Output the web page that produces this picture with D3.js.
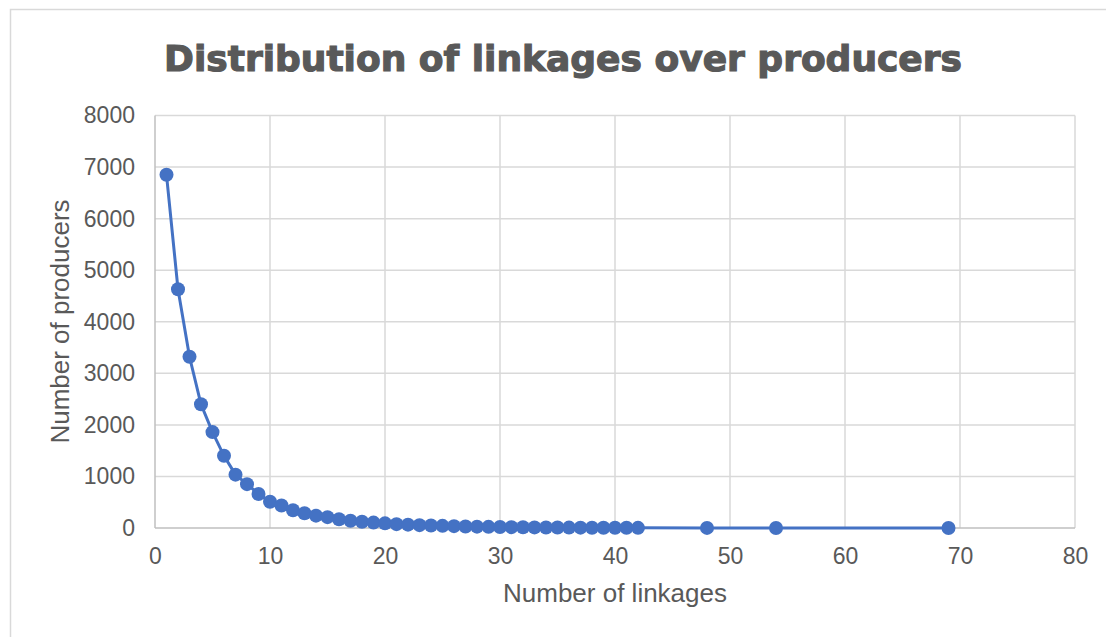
<!DOCTYPE html>
<html>
<head>
<meta charset="utf-8">
<title>Distribution of linkages over producers</title>
<style>
body { margin: 0; background: #fff; }
text { fill: #595959; font-family: "Liberation Sans", Arial, sans-serif; }
.grid line { stroke: #d9d9d9; stroke-width: 1.5px; }
</style>
</head>
<body>
<script src="https://cdn.jsdelivr.net/npm/d3@7"></script>
<script>

// number of linkages (x) and number of producers (y)
var linkages = [1, 2, 3, 4, 5, 6, 7, 8, 9, 10,
  11, 12, 13, 14, 15, 16, 17, 18, 19, 20,
  21, 22, 23, 24, 25, 26, 27, 28, 29, 30,
  31, 32, 33, 34, 35, 36, 37, 38, 39, 40,
  41, 42, 48, 54, 69];
var producers = [6850, 4630, 3320, 2400, 1860, 1400, 1035, 850, 660, 510,
  435, 345, 285, 240, 210, 170, 140, 120, 105, 90,
  75, 65, 55, 48, 42, 36, 30, 26, 22, 19,
  16, 14, 12, 11, 9, 8, 7, 6, 5, 5,
  4, 3, 2, 1, 1];
var xTicks = [0, 10, 20, 30, 40, 50, 60, 70, 80];
var yTicks = [0, 1000, 2000, 3000, 4000, 5000, 6000, 7000, 8000];

var width = 1106,
    height = 637;

var plot = {left: 155, right: 1075, top: 115.5, bottom: 528};

var svg = d3.select("body").append("svg")
    .attr("width", width)
    .attr("height", height);

// chart area border
svg.append("rect")
    .attr("x", 10.5)
    .attr("y", 9.5)
    .attr("width", width + 20)
    .attr("height", height + 20)
    .style("fill", "none")
    .style("stroke", "#d9d9d9")
    .style("stroke-width", 1.5);

var x = d3.scaleLinear().domain([0, 80]).range([plot.left, plot.right]);
var y = d3.scaleLinear().domain([0, 8000]).range([plot.bottom, plot.top]);

// gridlines
var grid = svg.append("g").attr("class", "grid");
grid.selectAll("line.h")
    .data(yTicks.slice(1))
    .enter().append("line")
    .attr("x1", plot.left).attr("x2", plot.right)
    .attr("y1", function(d) { return y(d); })
    .attr("y2", function(d) { return y(d); });
grid.selectAll("line.v")
    .data(xTicks.slice(1))
    .enter().append("line")
    .attr("x1", function(d) { return x(d); })
    .attr("x2", function(d) { return x(d); })
    .attr("y1", plot.top).attr("y2", plot.bottom);

// axes (labels only, lines drawn by hand)
var xAxis = svg.append("g")
    .attr("transform", "translate(0," + plot.bottom + ")")
    .call(d3.axisBottom(x).tickValues(xTicks).tickFormat(d3.format("d")).tickSize(0).tickPadding(20));
var yAxis = svg.append("g")
    .attr("transform", "translate(" + plot.left + ",0)")
    .call(d3.axisLeft(y).tickValues(yTicks).tickFormat(d3.format("d")).tickSize(0).tickPadding(20));

[xAxis, yAxis].forEach(function(a) {
  a.select(".domain").remove();
  a.selectAll("text")
      .style("font-size", "23px")
      .style("font-family", "'Liberation Sans', Arial, sans-serif")
      .attr("fill", "#595959");
});

// axis lines
svg.append("line")
    .attr("x1", plot.left).attr("x2", plot.right)
    .attr("y1", plot.bottom).attr("y2", plot.bottom)
    .style("stroke", "#bfbfbf").style("stroke-width", 1.5);
svg.append("line")
    .attr("x1", plot.left).attr("x2", plot.left)
    .attr("y1", plot.top).attr("y2", plot.bottom)
    .style("stroke", "#bfbfbf").style("stroke-width", 1.5);

// series
var data = linkages.map(function(d, i) { return {x: d, y: producers[i]}; });

var line = d3.line()
    .x(function(d) { return x(d.x); })
    .y(function(d) { return y(d.y); });

svg.append("path")
    .datum(data)
    .attr("d", line)
    .style("fill", "none")
    .style("stroke", "#4472c4")
    .style("stroke-width", 3);

svg.append("g")
    .selectAll("circle")
    .data(data)
    .enter().append("circle")
    .attr("cx", function(d) { return x(d.x); })
    .attr("cy", function(d) { return y(d.y); })
    .attr("r", 7)
    .style("fill", "#4472c4");

// titles
svg.append("text")
    .attr("x", 563)
    .attr("y", 71)
    .attr("text-anchor", "middle")
    .style("font-family", "'DejaVu Sans', sans-serif")
    .style("font-weight", "bold")
    .style("font-size", "36px")
    .style("stroke", "#595959")
    .style("stroke-width", 1.2)
    .text("Distribution of linkages over producers");

svg.append("text")
    .attr("x", (plot.left + plot.right) / 2)
    .attr("y", 602)
    .attr("text-anchor", "middle")
    .style("font-size", "26px")
    .text("Number of linkages");

svg.append("text")
    .attr("transform", "translate(69," + 321.5 + ") rotate(-90)")
    .attr("text-anchor", "middle")
    .style("font-size", "26px")
    .text("Number of producers");

</script>
</body>
</html>
